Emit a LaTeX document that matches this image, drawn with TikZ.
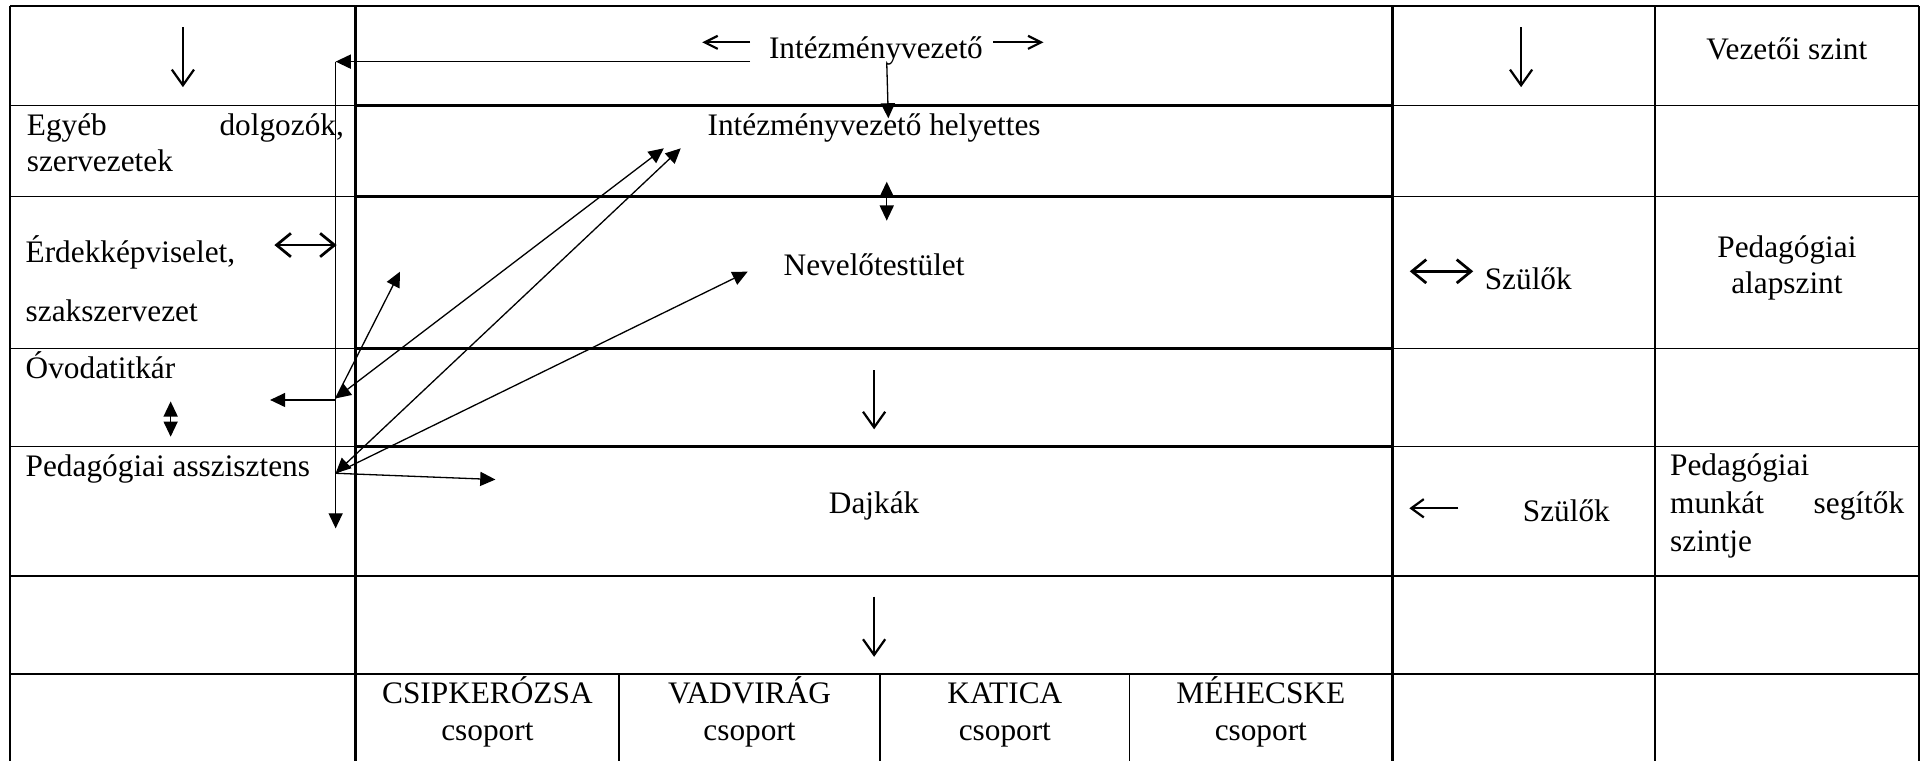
\documentclass[tikz,border=0pt]{standalone}
\usepackage{fontspec}
\setmainfont{Liberation Serif}
\usetikzlibrary{arrows.meta}
\begin{document}
\begin{tikzpicture}[x=0.4706pt, y=-0.4706pt,
  txt/.style={inner sep=0pt, font=\fontsize{12}{14}\selectfont},
  gthick/.style={line width=1.05pt},
  gthin/.style={line width=0.6pt},
  conn/.style={line width=0.5pt, -{Triangle[length=5.8pt,width=5.4pt]}},
  dconn/.style={line width=0.5pt, {Triangle[length=5.8pt,width=5.4pt]}-{Triangle[length=5.8pt,width=5.4pt]}},
  glyph/.style={line width=0.85pt, -{Straight Barb[length=6pt,width=8.5pt]}},
  sglyph/.style={line width=0.85pt, -{Straight Barb[length=5pt,width=5pt]}},
  bglyph/.style={line width=1.05pt, {Straight Barb[length=5.5pt,width=9pt]}-{Straight Barb[length=5.5pt,width=9pt]}},
  mglyph/.style={line width=0.85pt, -{Straight Barb[length=4.8pt,width=7pt]}}
]
\useasboundingbox (0,0) rectangle (1568,620);

% ---- table grid ----
\draw[gthick] (8,4.9) -- (1563,4.9);
\draw[gthick] (289.7,4.9) -- (289.7,620);
\draw[gthick] (1134,4.9) -- (1134,620);
\foreach \yy in {85.8,160.2,284,363.8,469.2}
  \draw[gthick] (289.7,\yy) -- (1134,\yy);
\draw[gthin] (8,4.9) -- (8,620);
\draw[gthin] (1563,4.9) -- (1563,620);
\draw[gthin] (1348,4.9) -- (1348,620);
\foreach \yy in {85.8,160.2,284,363.8,469.2,549}{
  \draw[gthin] (8,\yy) -- (289.7,\yy);
  \draw[gthin] (1134,\yy) -- (1563,\yy);
}
\draw[gthin] (289.7,549) -- (1134,549);
\foreach \xx in {504,717,920}
  \draw[gthin] (\xx,549) -- (\xx,620);

% ---- texts ----
\node[txt, anchor=base] (iv) at (713.5,47.5) {Intézményvezető};
\node[txt, anchor=base] (ivh) at (712,110) {Intézményvezető helyettes};
\node[txt, anchor=base] (nt) at (712,224) {Nevelőtestület};
\node[txt, anchor=base] (dk) at (712,418) {Dajkák};
\node[txt, anchor=base] (vsz) at (1455.5,48.5) {Vezetői szint};
\node[txt, anchor=base] (pa1) at (1455.5,209.5) {Pedagógiai};
\node[txt, anchor=base] (pa2) at (1455.5,239) {alapszint};
\node[txt, anchor=base west] (pm1) at (1360,387) {Pedagógiai};
\node[txt, anchor=base west] (pm2) at (1360,418) {\makebox[89.7pt][s]{munkát segítők}};
\node[txt, anchor=base west] (pm3) at (1360,449) {szintje};
\node[txt, anchor=base west] (eg1) at (21.5,110) {\makebox[121.5pt][s]{Egyéb dolgozók,}};
\node[txt, anchor=base west] (eg2) at (21.5,139.8) {szervezetek};
\node[txt, anchor=base west] (er1) at (20.5,214) {Érdekképviselet,};
\node[txt, anchor=base west] (er2) at (20.5,262) {szakszervezet};
\node[txt, anchor=base west] (ot) at (20.5,308) {Óvodatitkár};
\node[txt, anchor=base west] (pas) at (20.5,388.3) {Pedagógiai asszisztens};
\node[txt, anchor=base west] (sz1) at (1209,236) {Szülők};
\node[txt, anchor=base west] (sz2) at (1240,425) {Szülők};
\node[txt, anchor=base] (g1a) at (397,573) {CSIPKERÓZSA};
\node[txt, anchor=base] (g1b) at (397,603) {csoport};
\node[txt, anchor=base] (g2a) at (610.5,573) {VADVIRÁG};
\node[txt, anchor=base] (g2b) at (610.5,603) {csoport};
\node[txt, anchor=base] (g3a) at (818.5,573) {KATICA};
\node[txt, anchor=base] (g3b) at (818.5,603) {csoport};
\node[txt, anchor=base] (g4a) at (1027,573) {MÉHECSKE};
\node[txt, anchor=base] (g4b) at (1027,603) {csoport};

% ---- glyph-like arrows ----
\coordinate (dL1) at (149,22);   \coordinate (dL2) at (149,71);
\coordinate (dR1) at (1239,22);  \coordinate (dR2) at (1239,71);
\coordinate (dM1) at (712,301.4); \coordinate (dM2) at (712,349.7);
\coordinate (dB1) at (712,486);  \coordinate (dB2) at (712,535);
\draw[glyph] (dL1) -- (dL2);
\draw[glyph] (dR1) -- (dR2);
\draw[glyph] (dM1) -- (dM2);
\draw[glyph] (dB1) -- (dB2);
\coordinate (lA1) at (611,34.5); \coordinate (lA2) at (572,34.5);
\coordinate (rA1) at (809,34.5); \coordinate (rA2) at (850,34.5);
\draw[sglyph] (lA1) -- (lA2);
\draw[sglyph] (rA1) -- (rA2);
\coordinate (eL1) at (223.5,199.6); \coordinate (eL2) at (274.2,199.6);
\draw[bglyph] (eL1) -- (eL2);
\coordinate (sR1) at (1148.3,221); \coordinate (sR2) at (1200,221);
\draw[bglyph] (sR1) -- (sR2);
\coordinate (sB1) at (1188,414); \coordinate (sB2) at (1148,414);
\draw[mglyph] (sB1) -- (sB2);

% ---- connectors ----
\coordinate (ivA) at (611,50.2);
\coordinate (J0) at (273.4,50.2);
\coordinate (Jend) at (273.4,430.4);
\draw[conn] (ivA) -- (J0);
\draw[conn] (J0) -- (Jend);
\coordinate (ivB) at (722.3,51.6);
\coordinate (ivhT) at (723.6,96.4);
\draw[conn] (ivB) -- (ivhT);
\coordinate (d1) at (722.3,148);
\coordinate (d2) at (722.3,179.7);
\draw[dconn] (d1) -- (d2);
\coordinate (J1) at (273.4,324.5);
\coordinate (J2) at (273.4,385.5);
\coordinate (hA) at (540.7,120.8);
\coordinate (hB) at (554.5,120.8);
\coordinate (nC) at (609,221.3);
\coordinate (eD) at (325.8,221.3);
\coordinate (wE) at (220,325.8);
\coordinate (eF) at (403.5,390.6);
\draw[dconn] (J1) -- (hA);
\draw[dconn] (J2) -- (hB);
\draw[conn] (J2) -- (nC);
\draw[conn] (J1) -- (eD);
\draw[conn] (273.4,325.8) -- (wE);
\draw[conn] (J2) -- (eF);
\coordinate (ov1) at (139,327);
\coordinate (ov2) at (139,355.7);
\draw[dconn] (ov1) -- (ov2);
\end{tikzpicture}
\end{document}
